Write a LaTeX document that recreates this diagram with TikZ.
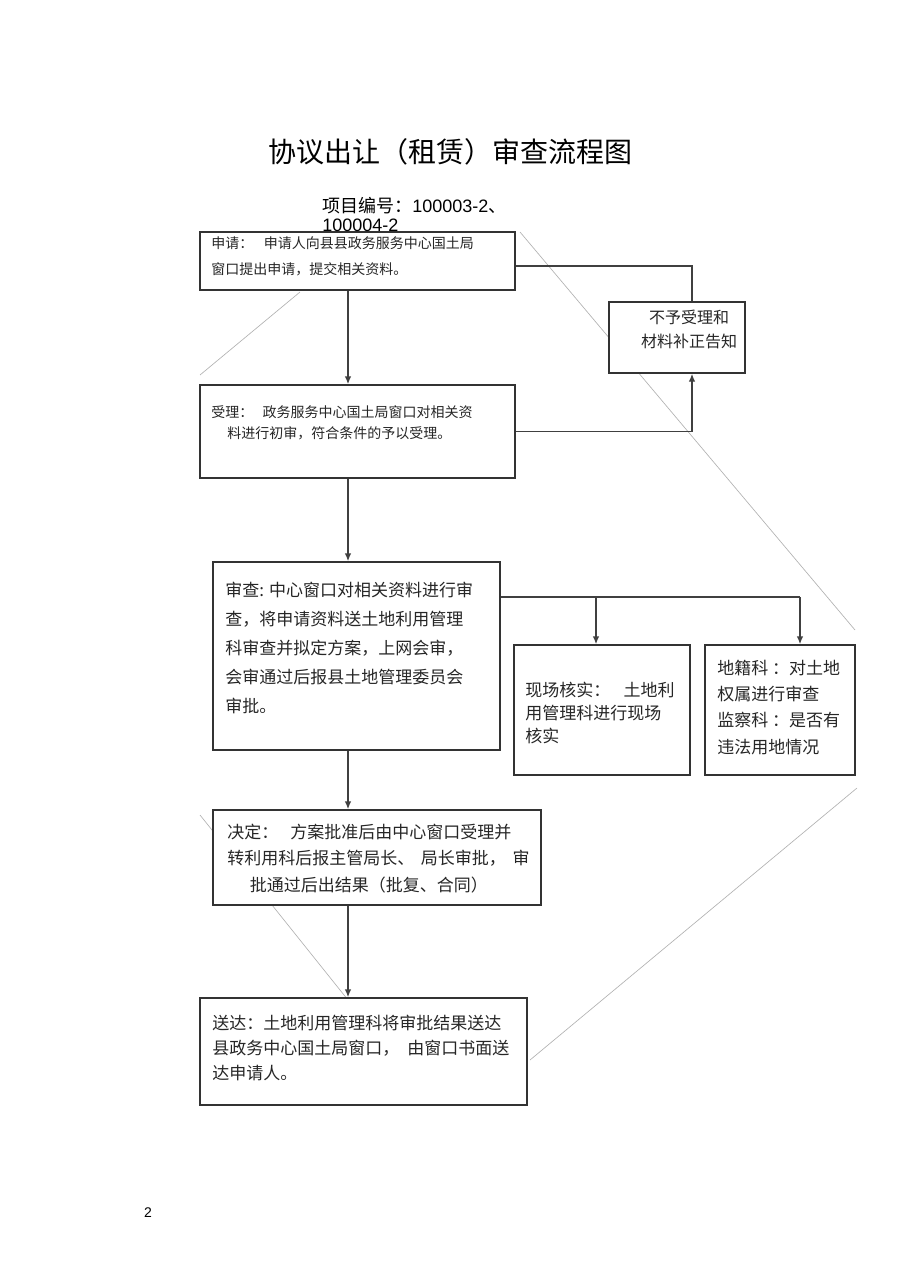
\documentclass[tikz,border=0pt]{standalone}
\usepackage{fontspec}
\setmainfont{Liberation Sans}
\newfontfamily\cjk{Noto Sans CJK SC}
\usetikzlibrary{arrows.meta}
\newcommand{\zhsize}[2]{\cjk\fontsize{#1}{#2}\selectfont}

\tikzset{
  box/.style={draw=black!80, line width=1.1pt, fill=white, inner sep=0pt, rectangle},
  txt/.style={anchor=north west, inner sep=0pt, align=left, text=black!85},
  arr/.style={draw=black!75, line width=1.1pt, -{Latex[length=6pt,width=5pt]}},
  link/.style={draw=black!75, line width=1.1pt},
  ghost/.style={draw=black!30, line width=0.5pt}
}

\begin{document}
\begin{tikzpicture}[x=0.75pt,y=0.75pt]
\useasboundingbox (0,0) rectangle (920,-1280);
% faint lines behind the boxes
\draw [ghost] (520,-232) -- (855,-630);
\draw [ghost] (857,-788) -- (530,-1060);
\draw [ghost] (200,-375) -- (300,-292);
\draw [ghost] (200,-815) -- (348,-1000);
% boxes
\node [box, minimum width=236.25pt, minimum height=43.5pt] (shenqing) at (357.5,-261) {};
\node [box, minimum width=102pt, minimum height=53.25pt] (buyu) at (677,-337.5) {};
\node [box, minimum width=236.25pt, minimum height=69.75pt] (shouli) at (357.5,-431.5) {};
\node [box, minimum width=215.25pt, minimum height=141pt] (shencha) at (356.5,-656) {};
\node [box, minimum width=132pt, minimum height=97.5pt] (xianchang) at (602,-710) {};
\node [box, minimum width=112.5pt, minimum height=97.5pt] (diji) at (780,-710) {};
\node [box, minimum width=246pt, minimum height=71.25pt] (jueding) at (377,-857.5) {};
\node [box, minimum width=245.25pt, minimum height=80.25pt] (songda) at (363.5,-1051.5) {};
% connectors
\coordinate (spine) at (348,0);
\coordinate (rejx) at (692,0);
\coordinate (fork1) at (596,-597);
\coordinate (fork2) at (800,-597);
\draw [arr] (spine |- shenqing.south) -- (spine |- shouli.north);
\draw [arr] (spine |- shouli.south) -- (spine |- shencha.north);
\draw [arr] (spine |- shencha.south) -- (spine |- jueding.north);
\draw [arr] (spine |- jueding.south) -- (spine |- songda.north);
\draw [link] ([yshift=-3.75pt]shenqing.east) -| (rejx |- buyu.north);
\draw [arr] (shouli.east) -| (rejx |- buyu.south);
\draw [link] (shencha.east |- fork1) -- (fork2);
\draw [arr] (fork1) -- (fork1 |- xianchang.north);
\draw [arr] (fork2) -- (fork2 |- diji.north);
% texts
\node [anchor=west, inner sep=0pt, font=\zhsize{21pt}{25pt}] (title) at (268,-152) {协议出让（租赁）审查流程图};
\node [anchor=west, inner sep=0pt, font=\fontsize{13.5pt}{16pt}\selectfont] (xmbh) at (322,-206) {{\cjk 项目编号：}100003-2{\cjk 、}};
\node [anchor=west, inner sep=0pt, font=\fontsize{13.5pt}{16pt}\selectfont] (xmbh2) at (322,-225) {100004-2};
\node [txt, font=\zhsize{10.5pt}{19.5pt}] (t1) at (211,-236) {申请：\hspace{8pt}申请人向县县政务服务中心国土局\\窗口提出申请，提交相关资料。};
\node [txt, anchor=north, align=center, font=\zhsize{12pt}{18pt}] (t2) at (689,-310) {不予受理和\\材料补正告知};
\node [txt, font=\zhsize{10.5pt}{15.75pt}] (t3) at (211,-405) {受理：\hspace{7pt}政务服务中心国土局窗口对相关资\\\hspace{12pt}料进行初审，符合条件的予以受理。};
\node [txt, font=\zhsize{12.75pt}{21.75pt}] (t4) at (225,-581.5) {审查: 中心窗口对相关资料进行审\\查，将申请资料送土地利用管理\\科审查并拟定方案，上网会审，\\会审通过后报县土地管理委员会\\审批。};
\node [txt, font=\zhsize{12.75pt}{17.25pt}] (t5) at (525,-681.5) {现场核实：\hspace{10pt}土地利\\用管理科进行现场\\核实};
\node [txt, font=\zhsize{12.75pt}{19.75pt}] (t6) at (717,-659.5) {地籍科 ：对土地\\权属进行审查\\监察科 ：是否有\\违法用地情况};
\node [txt, font=\zhsize{12.75pt}{20pt}] (t7) at (227,-823.5) {决定：\hspace{9pt}方案批准后由中心窗口受理并\\转利用科后报主管局长、\hspace{5pt}局长审批，\hspace{5pt}审\\\hspace{17pt}批通过后出结果（批复、合同）};
\node [txt, font=\zhsize{12.75pt}{18.75pt}] (t8) at (212,-1014.5) {送达：土地利用管理科将审批结果送达\\县政务中心国土局窗口，\hspace{6pt}由窗口书面送\\达申请人。};
\node [inner sep=0pt, font=\fontsize{10.5pt}{12pt}\selectfont] (pageno) at (148,-1213) {2};
\end{tikzpicture}
\end{document}
